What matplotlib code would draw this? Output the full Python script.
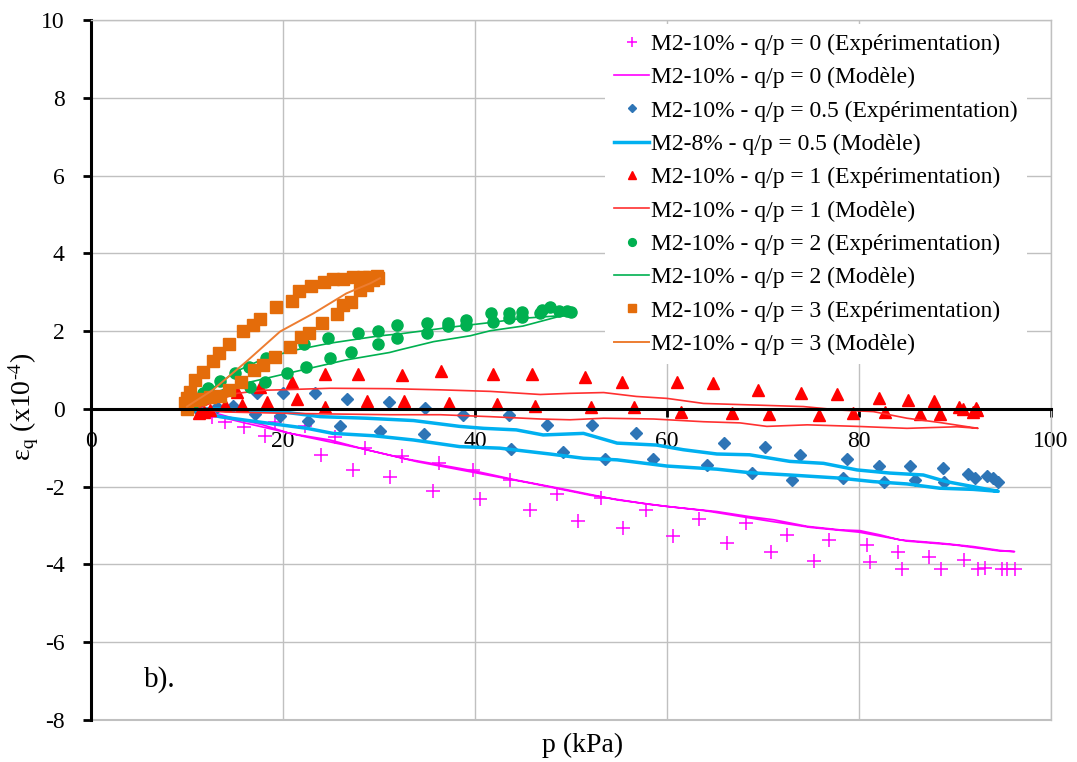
import matplotlib.pyplot as plt

# ---- q/p = 0 ----
p_exp0 = [10.5, 11.0, 12.6, 14.0, 15.9, 18.1, 19.2, 22.3, 24.0, 25.4, 27.3, 28.5, 31.1, 32.4,
          35.6, 36.2, 39.8, 40.5, 43.6, 45.7, 48.5, 50.7, 53.1, 55.4, 57.8, 60.6, 63.3, 66.2,
          68.2, 70.8, 72.5, 75.3, 76.9, 80.8, 81.1, 84.1, 84.5, 87.3, 88.5, 90.9, 92.4, 93.1,
          94.9, 95.4, 96.3]
eq_exp0 = [0.0, -0.08, -0.20, -0.33, -0.47, -0.69, -0.33, -0.45, -1.18, -0.73, -1.57, -1.01, -1.76, -1.21,
           -2.10, -1.38, -1.57, -2.31, -1.83, -2.60, -2.19, -2.87, -2.30, -3.05, -2.60, -3.28, -2.84, -3.44,
           -2.94, -3.67, -3.24, -3.90, -3.37, -3.51, -3.93, -3.69, -4.12, -3.81, -4.12, -3.88, -4.12, -4.10,
           -4.12, -4.12, -4.12]
p_mod0 = [10.5, 12.7, 15.0, 17.9, 20.7, 24.9, 28.7, 32.9, 36.4, 40.2, 44.3, 49.6, 54.8, 60.0, 65.2,
          68.6, 71.1, 74.6, 78.0, 80.1, 82.2, 84.3, 88.4, 91.9, 94.7, 96.2,
          94.5, 90.0, 85.0, 80.0, 75.0, 70.0, 64.0, 58.0, 52.0, 46.0, 40.0, 34.0, 28.0, 22.0, 16.0, 12.0, 10.5]
eq_mod0 = [0.0, -0.09, -0.25, -0.41, -0.63, -0.80, -1.05, -1.29, -1.44, -1.61, -1.83, -2.08, -2.34, -2.51, -2.64,
           -2.77, -2.85, -3.02, -3.11, -3.13, -3.24, -3.37, -3.45, -3.54, -3.64, -3.67,
           -3.65, -3.50, -3.40, -3.17, -3.05, -2.86, -2.62, -2.45, -2.22, -1.92, -1.64, -1.36, -1.01, -0.70, -0.36, -0.12, 0.0]

# ---- q/p = 0.5 ----
p_exp05 = [11.0, 13.1, 14.8, 17.3, 20.0, 23.3, 26.7, 31.0, 34.8, 38.8, 43.5, 47.5, 52.2, 56.8, 65.9,
           70.2, 73.9, 78.7, 82.1, 85.3, 88.7, 91.4, 92.1, 93.3, 94.0, 94.5,
           17.1, 19.7, 22.6, 25.9, 30.1, 34.7, 43.7, 49.2, 53.5, 58.5, 64.2, 68.9, 73.0, 78.3,
           82.6, 85.8, 88.9]
eq_exp05 = [0.0, 0.06, 0.08, 0.41, 0.40, 0.41, 0.26, 0.19, 0.03, -0.15, -0.15, -0.41, -0.42, -0.61, -0.87,
            -0.99, -1.18, -1.29, -1.47, -1.48, -1.53, -1.67, -1.78, -1.72, -1.78, -1.87,
            -0.12, -0.18, -0.31, -0.45, -0.57, -0.65, -1.04, -1.10, -1.29, -1.29, -1.44, -1.64, -1.83, -1.78,
            -1.87, -1.83, -1.87]
p_mod05 = [11.0, 13.4, 19.7, 23.9, 28.7, 33.6, 38.4, 40.9, 44.3, 47.1, 51.3, 54.8, 58.9, 61.7, 65.2,
           68.6, 72.8, 76.3, 79.8, 83.2, 86.7, 89.1, 91.9, 94.5,
           91.9, 88.4, 85.0, 81.5, 78.0, 72.8, 68.6, 65.2, 60.0, 54.8, 51.3, 47.8, 42.6, 38.4,
           33.6, 29.4, 25.2, 22.5, 17.9, 13.4, 11.0]
eq_mod05 = [0.0, 0.0, -0.07, -0.20, -0.24, -0.30, -0.45, -0.50, -0.54, -0.67, -0.63, -0.88, -0.93, -1.05, -1.16,
            -1.18, -1.35, -1.40, -1.57, -1.65, -1.70, -1.87, -2.00, -2.12,
            -2.07, -2.04, -1.93, -1.87, -1.78, -1.70, -1.64, -1.55, -1.47, -1.31, -1.27, -1.16, -1.01, -0.97,
            -0.80, -0.69, -0.63, -0.50, -0.35, -0.20, -0.05]

# ---- q/p = 1 ----
p_exp1 = [15.2, 17.6, 20.9, 24.4, 27.8, 32.4, 36.5, 41.9, 45.9, 51.5, 55.3, 61.0, 64.8, 69.5, 74.0,
          77.7, 82.1, 85.1, 87.8, 90.4, 90.8, 92.2,
          11.3, 11.8, 12.4, 14.0, 15.7, 18.3, 21.5, 24.4, 28.8, 32.6, 37.3, 42.3, 46.3, 52.1, 56.6,
          61.5, 66.8, 70.6, 75.8, 79.4, 82.7, 86.4, 88.4, 91.9, 92.3]
eq_exp1 = [0.43, 0.56, 0.70, 0.90, 0.90, 0.87, 0.98, 0.89, 0.89, 0.83, 0.68, 0.68, 0.66, 0.48, 0.41,
           0.38, 0.27, 0.23, 0.21, 0.06, 0.0, 0.02,
           -0.11, -0.07, -0.04, 0.09, 0.10, 0.19, 0.25, 0.06, 0.21, 0.21, 0.16, 0.13, 0.08, 0.04, 0.06,
           -0.07, -0.10, -0.12, -0.15, -0.10, -0.09, -0.13, -0.13, -0.09, -0.04]
p_mod1 = [11.0, 13.0, 15.2, 18.0, 19.7, 24.9, 31.1, 36.4, 41.6, 46.8, 49.9, 53.4, 56.8, 60.0, 63.8,
          69.0, 74.2, 78.0, 81.5, 85.0, 88.4, 92.4,
          90.2, 85.0, 79.8, 74.6, 70.4, 67.6, 63.8, 58.6, 53.4, 49.9, 46.8, 41.6, 36.4, 31.1,
          24.9, 19.7, 14.0, 11.0]
eq_mod1 = [0.0, 0.20, 0.40, 0.48, 0.49, 0.53, 0.52, 0.49, 0.45, 0.37, 0.40, 0.42, 0.32, 0.27, 0.14,
           0.10, 0.06, -0.03, -0.07, -0.24, -0.35, -0.50,
           -0.46, -0.50, -0.45, -0.41, -0.45, -0.36, -0.33, -0.26, -0.24, -0.28, -0.26, -0.20, -0.15, -0.15,
           -0.13, -0.11, -0.08, 0.0]

# ---- q/p = 2 ----
p_exp2 = [10.5, 11.0, 11.7, 12.2, 13.4, 15.0, 16.5, 18.2, 22.2, 24.7, 27.8, 29.9, 31.9, 35.0, 37.2,
          39.1, 41.7, 43.5, 44.9, 47.0, 47.8, 48.7, 49.6, 50.0,
          16.6, 18.1, 20.4, 22.4, 24.9, 27.1, 29.9, 31.9, 35.0, 37.2, 39.1, 41.9, 43.5, 44.9, 46.8]
eq_exp2 = [0.10, 0.25, 0.42, 0.53, 0.72, 0.92, 1.07, 1.30, 1.66, 1.82, 1.94, 2.01, 2.16, 2.22, 2.20,
           2.29, 2.46, 2.46, 2.50, 2.55, 2.63, 2.53, 2.52, 2.50,
           0.57, 0.70, 0.92, 1.07, 1.30, 1.47, 1.67, 1.82, 1.96, 2.12, 2.16, 2.24, 2.33, 2.36, 2.46]
p_mod2 = [10.8, 12.5, 15.0, 17.9, 21.0, 24.9, 30.1, 32.2, 35.0, 38.1, 41.6, 45.0, 48.5, 49.8,
          48.5, 45.0, 41.6, 39.5, 35.7, 32.2, 31.1, 26.6, 19.7, 15.0, 12.7, 10.8]
eq_mod2 = [0.10, 0.50, 0.95, 1.28, 1.50, 1.69, 1.88, 1.93, 2.02, 2.12, 2.22, 2.33, 2.39, 2.42,
           2.36, 2.13, 2.01, 1.88, 1.73, 1.52, 1.45, 1.26, 0.87, 0.60, 0.40, 0.10]

# ---- q/p = 3 ----
p_exp3 = [9.8, 10.3, 10.8, 11.7, 12.7, 13.3, 14.4, 15.8, 16.9, 17.6, 19.3, 20.9, 21.7, 22.9, 24.3,
          25.2, 26.2, 27.3, 28.3, 29.0, 29.8,
          10.0, 10.0, 10.7, 11.4, 12.4, 13.4, 14.4, 15.6, 17.0, 17.9, 19.2, 20.7, 21.9, 22.7, 24.1,
          25.6, 26.2, 27.1, 28.0, 28.7, 29.4, 29.9]
eq_exp3 = [0.15, 0.44, 0.75, 0.96, 1.22, 1.43, 1.67, 2.01, 2.16, 2.31, 2.61, 2.78, 3.03, 3.16, 3.27,
           3.34, 3.34, 3.40, 3.40, 3.40, 3.42,
           0.0, 0.28, 0.22, 0.25, 0.30, 0.32, 0.49, 0.68, 1.00, 1.13, 1.33, 1.59, 1.84, 1.96, 2.22,
           2.44, 2.67, 2.76, 3.06, 3.19, 3.32, 3.36]
p_mod3 = [10.0, 12.7, 16.2, 19.7, 23.2, 26.6, 29.1, 30.1]
eq_mod3 = [0.06, 0.49, 1.22, 1.99, 2.46, 2.97, 3.23, 3.36]

x_ticks = [0, 20, 40, 60, 80, 100]
y_ticks = [-8, -6, -4, -2, 0, 2, 4, 6, 8, 10]

plt.rcParams['font.family'] = ['Liberation Serif', 'DejaVu Serif']
plt.rcParams['mathtext.fontset'] = 'stix'
plt.rcParams['axes.unicode_minus'] = False

fig = plt.figure(figsize=(10.77, 7.62), dpi=100)
ax = fig.add_axes((91 / 1077, 42 / 762, 960 / 1077, 700 / 762))

ax.plot(p_exp0, eq_exp0, ls='none', marker='+', ms=10, mew=1.1, color='#FF00FF',
        label='M2-10% - q/p = 0 (Expérimentation)')
ax.plot(p_mod0, eq_mod0, color='#FF00FF', lw=1.2, label='M2-10% - q/p = 0 (Modèle)')
ax.plot(p_exp05, eq_exp05, ls='none', marker='D', ms=6, color='#2E75B6',
        label='M2-10% - q/p = 0.5 (Expérimentation)')
ax.plot(p_mod05, eq_mod05, color='#00B0F0', lw=2.5, label='M2-8% - q/p = 0.5 (Modèle)')
ax.plot(p_exp1, eq_exp1, ls='none', marker='^', ms=9, color='#FF0000',
        label='M2-10% - q/p = 1 (Expérimentation)')
ax.plot(p_mod1, eq_mod1, color='#FF3030', lw=1.2, label='M2-10% - q/p = 1 (Modèle)')
ax.plot(p_exp2, eq_exp2, ls='none', marker='o', ms=8, color='#00B050',
        label='M2-10% - q/p = 2 (Expérimentation)')
ax.plot(p_mod2, eq_mod2, color='#00B050', lw=1.2, label='M2-10% - q/p = 2 (Modèle)')
ax.plot(p_exp3, eq_exp3, ls='none', marker='s', ms=8, color='#E46C0A',
        label='M2-10% - q/p = 3 (Expérimentation)')
ax.plot(p_mod3, eq_mod3, color='#ED7D31', lw=1.4, label='M2-10% - q/p = 3 (Modèle)')

ax.set_xlim(0, 100)
ax.set_ylim(-8, 10)
ax.set_xticks(x_ticks)
ax.set_yticks(y_ticks)
ax.grid(True, color='#C0C0C0', lw=1)
ax.set_axisbelow(True)

# x axis on the zero line
ax.spines['bottom'].set_position(('data', 0))
ax.spines['bottom'].set_linewidth(2.2)
ax.spines['left'].set_linewidth(2.2)
ax.spines['top'].set_color('#C0C0C0')
ax.spines['right'].set_color('#C0C0C0')
ax.spines['top'].set_linewidth(1)
ax.spines['right'].set_linewidth(1)
ax.axhline(-8, color='#C0C0C0', lw=1.5, clip_on=False)
ax.tick_params(axis='x', direction='out', length=6, width=2, labelsize=17, pad=10)
ax.tick_params(axis='y', direction='out', length=6, width=2, labelsize=17, pad=13)

ax.set_xlabel('p (kPa)', fontsize=20)
ax.xaxis.set_label_coords(0.5125, -0.018)
ax.set_ylabel('ε$_{\\rm q}$ (x10$^{\\text{-}4}$)', fontsize=20)
ax.yaxis.set_label_coords(-0.052, 0.447)

ax.text(7.2, -6.97, 'b).', fontsize=21, ha='center', va='center')

leg = ax.legend(loc='upper left', bbox_to_anchor=(605 / 1077, 1 - 24 / 762),
                bbox_transform=fig.transFigure, fontsize=17, frameon=True,
                facecolor='white', edgecolor='none', framealpha=1, fancybox=False,
                borderpad=0.4, borderaxespad=0, labelspacing=0.5, handlelength=1.45,
                handletextpad=0.1, markerscale=0.7)

fig.savefig('out.png', dpi=100)
